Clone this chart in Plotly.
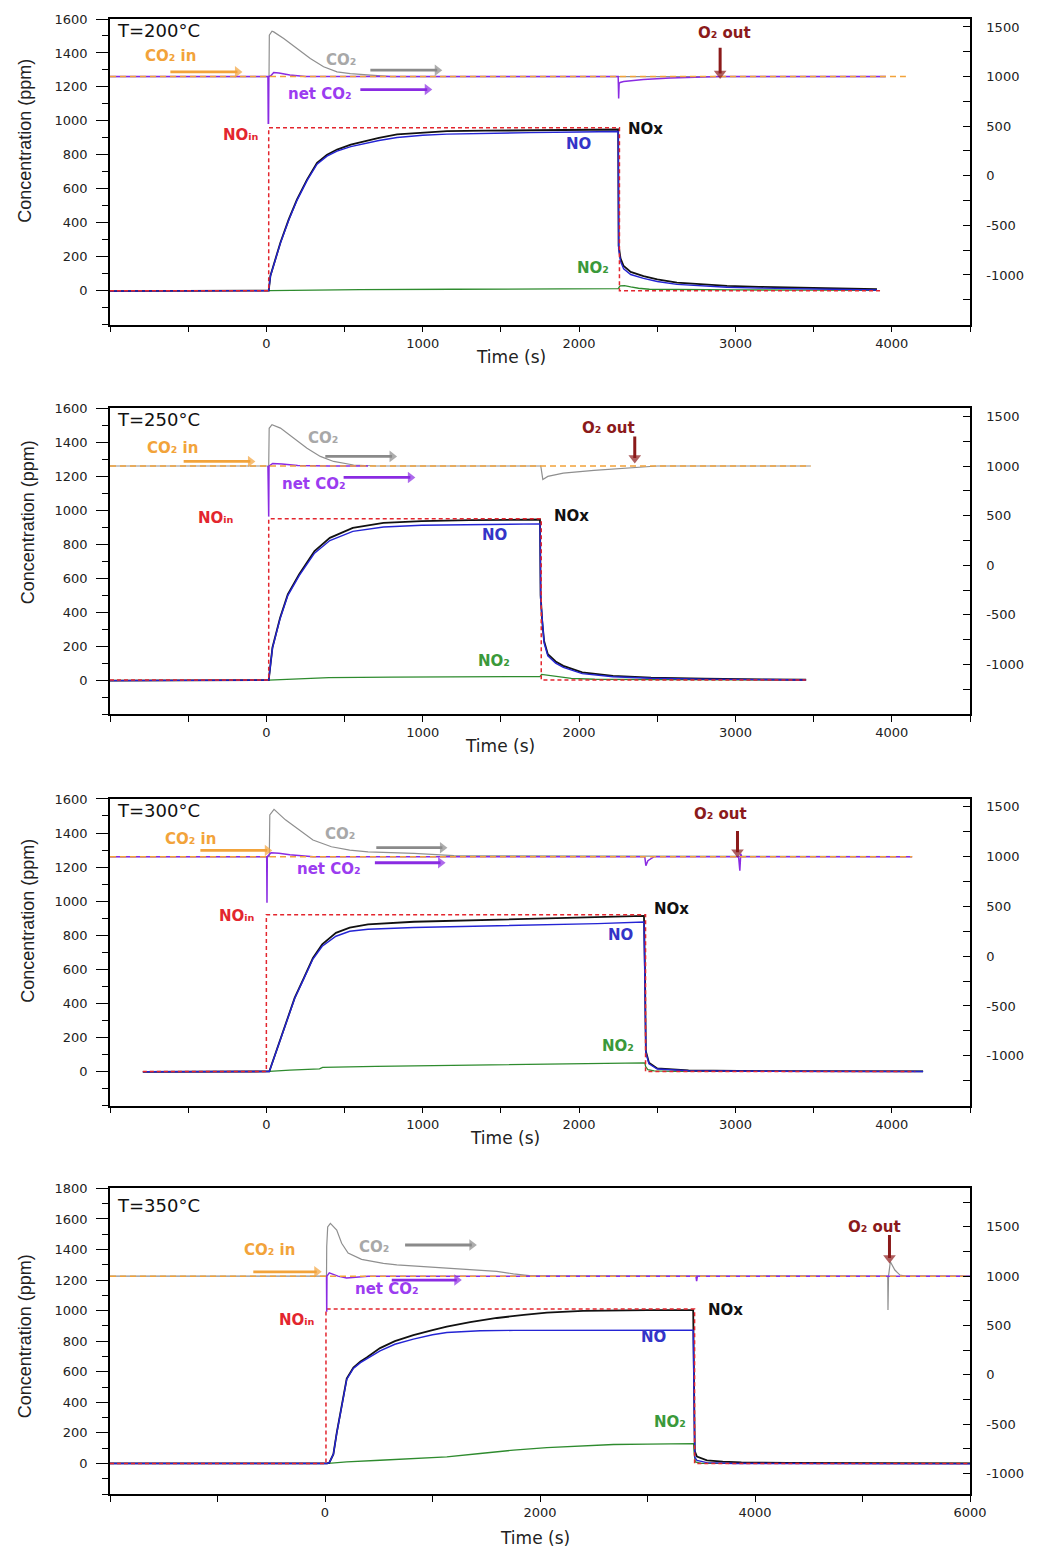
import plotly.graph_objects as go

# ---------------------------------------------------------------------------
# Concentration traces (time in s). NOx/NO/NO2/NO_in on the left axis (ppm),
# CO2, net CO2 and CO2-in on the right axis.
# ---------------------------------------------------------------------------

# ---- T = 200 °C ----
T200_NOX_T = [-1000, 15, 26, 90, 143, 196, 260, 324, 388, 452, 540, 622, 720, 836, 1000, 1155, 1400, 1688,
              2000, 2250, 2253, 2265, 2285, 2330, 2412, 2500, 2626, 2780, 2946, 3150, 3371, 3650, 3905]
T200_NOX = [-3, 0, 88, 284, 420, 537, 654, 753, 800, 831, 860, 880, 900, 920, 932, 939, 942, 945,
            947, 949, 265, 190, 145, 110, 86, 66, 47, 36, 28, 22, 18, 12, 8]
T200_NO_T = T200_NOX_T
T200_NO = [-3, 0, 86, 280, 415, 532, 648, 745, 792, 822, 848, 866, 884, 902, 915, 922, 927, 931,
           934, 937, 245, 172, 128, 95, 72, 54, 37, 27, 20, 15, 11, 7, 4]
T200_NO2_T = [15, 200, 600, 1200, 1800, 2250, 2262, 2290, 2330, 2380, 2450, 2700, 3000, 3500, 3905]
T200_NO2 = [0, 3, 6, 8, 10, 12, 28, 30, 22, 14, 8, 5, 4, 3, 2]
T200_NOIN_T = [-1000, 15, 15, 2258, 2258, 3930]
T200_NOIN = [0, 0, 960, 960, 0, 0]
T200_CO2_T = [-1000, 17, 19, 36, 47, 111, 196, 281, 366, 452, 537, 665, 800, 3960]
T200_CO2 = [1000, 1000, 1417, 1457, 1450, 1383, 1282, 1181, 1098, 1047, 1030, 1014, 1000, 1000]
T200_NET_T = [-1000, 10, 12, 14, 16, 30, 47, 80, 150, 250, 2250, 2253, 2256, 2262, 2285, 2412, 2583,
              2732, 2902, 3962]
T200_NET = [1000, 1000, 530, 530, 1000, 1010, 1040, 1035, 1015, 1000, 1000, 780, 930, 940, 950, 970, 985,
            992, 1000, 1000]
T200_CO2IN_T = [-1000, 4090]
T200_CO2IN = [1000, 1000]

# ---- T = 250 °C ----
T250_NOX_T = [-1000, 15, 39, 88, 137, 210, 308, 406, 553, 749, 993, 1300, 1750, 1754, 1764, 1776, 1800,
              1850, 1899, 2020, 2217, 2460, 2800, 3100, 3452]
T250_NOX = [-3, 0, 192, 368, 505, 623, 760, 838, 897, 926, 936, 942, 946, 500, 348, 231, 153,
            110, 84, 45, 25, 14, 8, 5, 2]
T250_NO_T = T250_NOX_T
T250_NO = [-3, 0, 188, 362, 498, 615, 748, 822, 876, 902, 912, 916, 920, 480, 335, 220, 142,
           100, 75, 38, 20, 11, 6, 4, 1]
T250_NO2_T = [15, 200, 400, 800, 1200, 1750, 1760, 1790, 1850, 1950, 2100, 2400, 3000, 3452]
T250_NO2 = [0, 8, 14, 17, 19, 21, 34, 30, 20, 10, 5, 3, 2, 1]
T250_NOIN_T = [-1000, 15, 15, 1758, 1758, 3450]
T250_NOIN = [0, 0, 950, 950, 0, 0]
T250_CO2_T = [-1000, 15, 18, 36, 90, 175, 260, 345, 430, 558, 700, 1755, 1760, 1768, 1800, 1899, 2095,
              2339, 2500, 3480]
T250_CO2 = [1000, 1000, 1380, 1416, 1382, 1281, 1180, 1097, 1046, 1010, 1000, 1000, 940, 865, 895, 928,
            956, 979, 1000, 1000]
T250_NET_T = [10, 13, 15, 17, 30, 40, 100, 200, 400, 650]
T250_NET = [1000, 490, 490, 1000, 1020, 1026, 1020, 1005, 1000, 1000]
T250_CO2IN_T = [-1000, 3480]
T250_CO2IN = [1000, 1000]

# ---- T = 300 °C ----
T300_NOX_T = [-790, 0, 19, 34, 63, 122, 181, 240, 298, 357, 445, 533, 650, 944, 1531, 2118, 2415, 2421,
              2427, 2447, 2500, 2700, 3200, 4200]
T300_NOX = [-2, 0, 0, 41, 119, 276, 432, 550, 667, 746, 814, 844, 864, 879, 893, 907, 913, 600,
            119, 51, 18, 6, 2, 0]
T300_NO_T = T300_NOX_T
T300_NO = [-2, 0, 0, 40, 117, 272, 428, 545, 660, 735, 794, 823, 835, 845, 855, 868, 877, 560,
           110, 45, 14, 4, 1, 0]
T300_NO2_T = [19, 150, 340, 360, 700, 1200, 1800, 2421, 2425, 2440, 2480, 2600, 4200]
T300_NO2 = [0, 8, 15, 24, 30, 36, 43, 50, 30, 10, 3, 0, 0]
T300_NOIN_T = [-790, 0, 0, 2425, 2425, 4150]
T300_NOIN = [0, 0, 920, 920, 0, 0]
T300_CO2_T = [-1000, 19, 22, 49, 122, 210, 298, 416, 533, 650, 944, 1200, 4130]
T300_CO2 = [1000, 1000, 1420, 1475, 1370, 1268, 1167, 1100, 1066, 1049, 1033, 1010, 1000]
T300_NET_T = [-1000, 2, 4, 6, 30, 80, 150, 300, 2420, 2427, 2440, 2480, 3020, 3028, 3034, 3040, 4130]
T300_NET = [1000, 1000, 536, 1000, 1040, 1035, 1020, 1000, 1000, 910, 960, 1000, 1000, 860, 1030, 1000, 1000]
T300_CO2IN_T = [-1000, 4130]
T300_CO2IN = [1000, 1000]

# ---- T = 350 °C ----
T350_NOX_T = [-2000, 20, 40, 78, 109, 140, 171, 202, 264, 330, 388, 512, 650, 822, 1000, 1133, 1350, 1598,
              1850, 2064, 2400, 2684, 3000, 3425, 3430, 3440, 3460, 3553, 3700, 3874, 4300, 6000]
T350_NOX = [0, 0, 5, 61, 200, 325, 455, 555, 628, 668, 694, 755, 800, 840, 872, 895, 925, 952,
            972, 987, 998, 1003, 1004, 1004, 500, 80, 45, 20, 12, 7, 3, 0]
T350_NO_T = [-2000, 20, 40, 78, 109, 140, 171, 202, 264, 330, 388, 512, 650, 822, 1000, 1133, 1443, 1753,
             3425, 3430, 3440, 3460, 3553, 3800, 6000]
T350_NO = [0, 0, 5, 60, 197, 320, 450, 550, 622, 660, 684, 737, 780, 814, 842, 857, 868, 871,
           872, 450, 40, 20, 5, 0, -3]
T350_NO2_T = [31, 202, 512, 822, 1133, 1443, 1753, 2064, 2374, 2684, 3000, 3429, 3435, 3445, 3500, 6000]
T350_NO2 = [0, 10, 21, 32, 43, 65, 87, 104, 115, 124, 127, 130, 60, 10, 0, 0]
T350_NOIN_T = [-2000, 9, 9, 3438, 3438, 6000]
T350_NOIN = [0, 0, 1010, 1010, 0, 0]
T350_CO2_T = [-2000, 14, 16, 25, 50, 109, 155, 215, 340, 543, 668, 1009, 1133, 1598, 1753, 1900,
              5235, 5237, 5242, 5259, 5301, 5349, 5400, 6000]
T350_CO2 = [1000, 1000, 1300, 1500, 1535, 1467, 1333, 1234, 1170, 1130, 1115, 1090, 1082, 1048, 1024, 1005,
            1000, 656, 1000, 1146, 1062, 1011, 1000, 1000]
T350_NET_T = [10, 14, 16, 18, 40, 120, 200, 400, 3450, 3457, 3464, 6000]
T350_NET = [1000, 1000, 639, 1000, 1034, 1000, 981, 1000, 1000, 950, 1000, 1000]
T350_CO2IN_T = [-2000, 6000]
T350_CO2IN = [1000, 1000]

# Panel titles, curve labels and tick labels
PANEL_TITLES = ["T=200°C", "T=250°C", "T=300°C", "T=350°C"]
LBL_CO2IN = "CO₂ in"
LBL_CO2 = "CO₂"
LBL_NET = "net CO₂"
LBL_NOIN = "NOᵢₙ"
LBL_NOX = "NOx"
LBL_NO = "NO"
LBL_NO2 = "NO₂"
LBL_O2 = "O₂ out"
X_TICKS_SHORT = [0, 1000, 2000, 3000, 4000]
X_TICKS_LONG = [0, 2000, 4000, 6000]
Y_TICKS_1600 = [0, 200, 400, 600, 800, 1000, 1200, 1400, 1600]
Y_TICKS_1800 = [0, 200, 400, 600, 800, 1000, 1200, 1400, 1600, 1800]
Y2_TICKS = [-1000, -500, 0, 500, 1000, 1500]

# ---------------------------------------------------------------------------
# Page geometry
# ---------------------------------------------------------------------------
FIG_W, FIG_H = 1040, 1551
M_L, M_R, M_T, M_B = 110, 70, 17, 57
PLOT_W = FIG_W - M_L - M_R
PLOT_H = FIG_H - M_T - M_B
PANEL_PX = [(17, 323), (407, 713), (798, 1105), (1188, 1494)]


def paper_x(px):
    return (px - M_L) / PLOT_W


def paper_y(py):
    return (FIG_H - M_B - py) / PLOT_H


C_NOX = "#111111"
C_NO = "#2424d4"
C_NO2 = "#2e8b2e"
C_NOIN = "#e3262e"
C_CO2 = "#8f8f8f"
C_NET = "#8a2be2"
C_CO2IN = "#f2a33a"
C_O2 = "#8b1a1a"
LBL_FONT = "DejaVu Sans"
TICK_FONT = dict(family="DejaVu Sans", size=13, color="#222222")

panels = [
    dict(nox=(T200_NOX_T, T200_NOX), no=(T200_NO_T, T200_NO), no2=(T200_NO2_T, T200_NO2),
         noin=(T200_NOIN_T, T200_NOIN), co2=(T200_CO2_T, T200_CO2), net=(T200_NET_T, T200_NET),
         co2in=(T200_CO2IN_T, T200_CO2IN),
         xr=[-1000, 4500], xt=X_TICKS_SHORT, xminor=500, yr=[-200, 1600], yt=Y_TICKS_1600, y2r=[-1500, 1580],
         labels=dict(title=(-970, 1535), co2in=(-614, 1385), co2=(480, 1359), net=(345, 1160),
                     noin=(-160, 918), nox=(2423, 953), no=(1995, 865), no2=(2091, 131), o2=(2928, 1518)),
         arrows=dict(co2in=(-614, -185, 1047), co2=(665, 1093, 1064), net=(601, 1029, 869),
                     o2=(2902, 1290, 1030)),
         ytitle=(25, 139), xtitle=(511, 355)),
    dict(nox=(T250_NOX_T, T250_NOX), no=(T250_NO_T, T250_NO), no2=(T250_NO2_T, T250_NO2),
         noin=(T250_NOIN_T, T250_NOIN), co2=(T250_CO2_T, T250_CO2), net=(T250_NET_T, T250_NET),
         co2in=(T250_CO2IN_T, T250_CO2IN),
         xr=[-1000, 4500], xt=X_TICKS_SHORT, xminor=500, yr=[-200, 1600], yt=Y_TICKS_1600, y2r=[-1500, 1580],
         labels=dict(title=(-970, 1535), co2in=(-601, 1367), co2=(364, 1425), net=(307, 1153),
                     noin=(-320, 955), nox=(1950, 965), no=(1458, 853), no2=(1458, 113), o2=(2187, 1484)),
         arrows=dict(co2in=(-529, -102, 1046), co2=(377, 804, 1097), net=(494, 921, 885),
                     o2=(2356, 1298, 1080)),
         ytitle=(28, 521), xtitle=(500, 745)),
    dict(nox=(T300_NOX_T, T300_NOX), no=(T300_NO_T, T300_NO), no2=(T300_NO2_T, T300_NO2),
         noin=(T300_NOIN_T, T300_NOIN), co2=(T300_CO2_T, T300_CO2), net=(T300_NET_T, T300_NET),
         co2in=(T300_CO2IN_T, T300_CO2IN),
         xr=[-1000, 4500], xt=X_TICKS_SHORT, xminor=500, yr=[-200, 1600], yt=Y_TICKS_1600, y2r=[-1500, 1580],
         labels=dict(title=(-970, 1535), co2in=(-486, 1365), co2=(473, 1394), net=(401, 1187),
                     noin=(-185, 912), nox=(2590, 952), no=(2264, 801), no2=(2250, 149), o2=(2903, 1512)),
         arrows=dict(co2in=(-422, 6, 1063), co2=(703, 1126, 1090), net=(694, 1114, 939),
                     o2=(3013, 1258, 1045)),
         ytitle=(28, 920), xtitle=(505, 1138)),
    dict(nox=(T350_NOX_T, T350_NOX), no=(T350_NO_T, T350_NO), no2=(T350_NO2_T, T350_NO2),
         noin=(T350_NOIN_T, T350_NOIN), co2=(T350_CO2_T, T350_CO2), net=(T350_NET_T, T350_NET),
         co2in=(T350_CO2IN_T, T350_CO2IN),
         xr=[-2000, 6000], xt=X_TICKS_LONG, xminor=1000, yr=[-200, 1800], yt=Y_TICKS_1800, y2r=[-1210, 1890],
         labels=dict(title=(-1955, 1689), co2in=(-512, 1395), co2=(456, 1416), net=(577, 1144),
                     noin=(-261, 937), nox=(3730, 1007), no=(3054, 828), no2=(3212, 273), o2=(5112, 1547)),
         arrows=dict(co2in=(-667, -77, 1044), co2=(745, 1366, 1316), net=(621, 1226, 960),
                     o2=(5251, 1417, 1185)),
         ytitle=(25, 1336), xtitle=(535, 1538)),
]

fig = go.Figure()
layout = {}
annotations = []

for i, p in enumerate(panels):
    xa = "x" if i == 0 else f"x{i + 1}"
    yl = "y" if i == 0 else f"y{2 * i + 1}"
    yr = f"y{2 * i + 2}"
    top_px, bot_px = PANEL_PX[i]
    dom = [paper_y(bot_px), min(1.0, paper_y(top_px))]

    def add(series, color, width, dash=None, axis=yl):
        t, v = series
        fig.add_trace(go.Scatter(x=t, y=v, mode="lines", xaxis=xa, yaxis=axis, showlegend=False,
                                 hoverinfo="skip",
                                 line=dict(color=color, width=width, dash=dash)))

    # CO2 group on the right axis
    add(p["co2"], C_CO2, 1.2, axis=yr)
    add(p["net"], C_NET, 1.5, axis=yr)
    add(p["co2in"], C_CO2IN, 1.5, dash="6px,4px", axis=yr)
    # NOx group on the left axis
    add(p["no2"], C_NO2, 1.3)
    add(p["nox"], C_NOX, 1.8)
    add(p["no"], C_NO, 1.4)
    add(p["noin"], C_NOIN, 1.5, dash="4px,3px")

    # pointer arrows: shaft plus a triangular head at the tip
    A = p["arrows"]
    for key, color in (("co2in", C_CO2IN), ("co2", "#8a8a8a"), ("net", C_NET)):
        t0, t1, r = A[key]
        fig.add_trace(go.Scatter(x=[t0, t1], y=[r, r], mode="lines+markers", xaxis=xa, yaxis=yr,
                                 showlegend=False, hoverinfo="skip",
                                 line=dict(color=color, width=2.8),
                                 marker=dict(symbol="triangle-right", size=[0, 10], color=color,
                                             line=dict(width=0))))
    t, tail, head = A["o2"]
    fig.add_trace(go.Scatter(x=[t, t], y=[tail, head], mode="lines+markers", xaxis=xa, yaxis=yr,
                             showlegend=False, hoverinfo="skip",
                             line=dict(color=C_O2, width=3),
                             marker=dict(symbol="triangle-down", size=[0, 11], color=C_O2,
                                         line=dict(width=0))))

    xkey = "xaxis" if i == 0 else f"xaxis{i + 1}"
    ylkey = "yaxis" if i == 0 else f"yaxis{2 * i + 1}"
    yrkey = f"yaxis{2 * i + 2}"

    layout[xkey] = dict(
        domain=[0, 1], anchor=yl, range=p["xr"], tickmode="array", tickvals=p["xt"],
        ticktext=[str(v) for v in p["xt"]], ticks="outside", ticklen=6, tickwidth=1.3, tickcolor="black",
        minor=dict(tickmode="linear", tick0=0, dtick=p["xminor"], ticks="outside", ticklen=6,
                   tickwidth=1.3, tickcolor="black"),
        showline=True, linecolor="black", linewidth=1.5, mirror=True, showgrid=False, zeroline=False,
        tickfont=TICK_FONT, ticklabelstandoff=0,
    )
    layout[ylkey] = dict(
        domain=dom, anchor=xa, range=p["yr"], tickmode="array", tickvals=p["yt"],
        ticktext=[str(v) for v in p["yt"]], ticks="outside", ticklen=12, tickwidth=1.3, tickcolor="black",
        minor=dict(tickmode="linear", tick0=0, dtick=100, ticks="outside", ticklen=6, tickwidth=1.3,
                   tickcolor="black"),
        showline=True, linecolor="black", linewidth=1.5, showgrid=False, zeroline=False,
        tickfont=TICK_FONT, ticklabelstandoff=6,
    )
    layout[yrkey] = dict(
        domain=dom, anchor=xa, overlaying=yl, side="right", range=p["y2r"], tickmode="array",
        tickvals=Y2_TICKS, ticktext=[str(v) for v in Y2_TICKS], ticks="inside", ticklen=7, tickwidth=1.3,
        tickcolor="black",
        minor=dict(tickmode="linear", tick0=0, dtick=250, ticks="inside", ticklen=7, tickwidth=1.3,
                   tickcolor="black"),
        showline=True, linecolor="black", linewidth=1.5, showgrid=False, zeroline=False,
        tickfont=TICK_FONT, ticklabelstandoff=12,
    )

    L = p["labels"]

    def label(key, text, color, size=15, bold=True, xanchor="center"):
        x, y = L[key]
        annotations.append(dict(x=x, y=y, xref=xa, yref=yl, text=text, showarrow=False, xanchor=xanchor,
                                yanchor="middle",
                                font=dict(family=LBL_FONT, size=size, color=color,
                                          weight="bold" if bold else "normal")))

    label("title", PANEL_TITLES[i], "#111111", size=18, bold=False, xanchor="left")
    label("co2in", LBL_CO2IN, C_CO2IN)
    label("co2", LBL_CO2, "#a8a8a8")
    label("net", LBL_NET, "#9b3cf0")
    label("noin", LBL_NOIN, C_NOIN)
    label("nox", LBL_NOX, "#111111")
    label("no", LBL_NO, "#3434c8")
    label("no2", LBL_NO2, "#3a993a")
    label("o2", LBL_O2, C_O2)

    # axis titles
    tx, ty = p["ytitle"]
    annotations.append(dict(x=paper_x(tx), y=paper_y(ty), xref="paper", yref="paper",
                            text="Concentration (ppm)", textangle=-90, showarrow=False,
                            xanchor="center", yanchor="middle",
                            font=dict(family="Liberation Sans", size=18, color="#222222")))
    tx, ty = p["xtitle"]
    annotations.append(dict(x=paper_x(tx), y=paper_y(ty), xref="paper", yref="paper",
                            text="Time (s)", showarrow=False, xanchor="center", yanchor="middle",
                            font=dict(family="DejaVu Sans", size=17, color="#222222")))

fig.update_layout(
    width=FIG_W, height=FIG_H,
    margin=dict(l=M_L, r=M_R, t=M_T, b=M_B),
    paper_bgcolor="white", plot_bgcolor="white",
    showlegend=False,
    annotations=annotations,
    **layout,
)

fig.write_html("out.html")
